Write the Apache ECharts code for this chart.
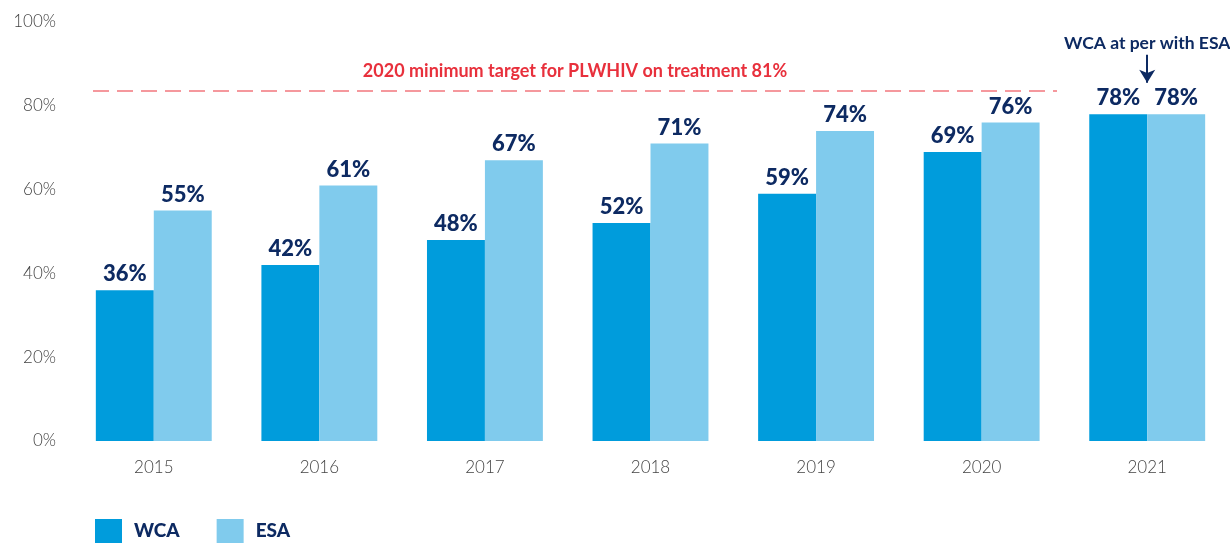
<!DOCTYPE html>
<html>
<head>
<meta charset="utf-8">
<script src="https://cdn.jsdelivr.net/npm/echarts@6/dist/echarts.min.js"></script>
<style>
  html, body { margin: 0; padding: 0; background: #fff; }
  #chart { width: 1230px; height: 543px; }
</style>
</head>
<body>
<div id="chart"></div>
<script>
var years = ['2015', '2016', '2017', '2018', '2019', '2020', '2021'];
var wca = [36, 42, 48, 52, 59, 69, 78];
var esa = [55, 61, 67, 71, 74, 76, 78];
var targetValue = 83.5;   // where the dashed line sits in the picture
var targetText = '2020 minimum target for PLWHIV on treatment 81%';
var noteText = 'WCA at per with ESA';

var navy = '#0d2a62';
var font = 'Lato, "Noto Sans", sans-serif';

var chart = echarts.init(document.getElementById('chart'));

var barLabel = {
  show: true,
  position: 'top',
  distance: 5,
  formatter: '{c}%',
  color: navy,
  fontFamily: font,
  fontWeight: 900,
  fontSize: 22
};

chart.setOption({
  animation: false,
  grid: { left: 71, right: 0, top: 22, bottom: 102 },
  legend: {
    data: ['WCA', 'ESA'],
    left: 95,
    bottom: 0,
    padding: 0,
    itemWidth: 27,
    itemHeight: 24,
    itemGap: 37,
    icon: 'rect',
    textStyle: { color: navy, fontFamily: font, fontWeight: 900, fontSize: 19, padding: [0, 0, 0, 7] }
  },
  xAxis: {
    type: 'category',
    data: years,
    axisLine: { show: false },
    axisTick: { show: false },
    axisLabel: { color: '#444', fontFamily: font, fontWeight: 300, fontSize: 17, margin: 18 }
  },
  yAxis: {
    type: 'value',
    min: 0,
    max: 100,
    interval: 20,
    splitLine: { show: false },
    axisLabel: { color: '#444', fontFamily: font, fontWeight: 300, fontSize: 17, margin: 15, formatter: '{value}%' }
  },
  series: [
    {
      name: 'WCA',
      type: 'bar',
      data: wca,
      barGap: 0,
      barCategoryGap: '30%',
      itemStyle: { color: '#009cdc' },
      label: barLabel
    },
    {
      name: 'ESA',
      type: 'bar',
      data: esa,
      itemStyle: { color: '#80cbed' },
      label: barLabel
    },
    {
      name: 'notes',
      type: 'line',
      data: [],
      silent: true,
      markLine: {
        silent: true,
        data: [
          [
            {
              x: 93, yAxis: targetValue, symbol: 'none',
              lineStyle: { color: '#f2777e', type: [16, 8], width: 1.5 },
              label: {
                show: true, position: 'middle', distance: 11, formatter: targetText,
                color: '#e8303c', fontFamily: font, fontWeight: 'bold', fontSize: 18
              }
            },
            { x: 1057, yAxis: targetValue, symbol: 'none' }
          ],
          [
            {
              coord: ['2021', 92.2], symbol: 'none',
              lineStyle: { color: navy, type: 'solid', width: 2 },
              label: { show: false }
            },
            { coord: ['2021', 85.5], symbol: 'arrow', symbolSize: [12, 13] }
          ]
        ]
      },
      markPoint: {
        silent: true,
        symbol: 'circle',
        symbolSize: 0,
        data: [
          {
            coord: ['2021', 95],
            label: {
              show: true, formatter: noteText, position: 'inside',
              color: navy, fontFamily: font, fontWeight: 'bold', fontSize: 17.5
            }
          }
        ]
      }
    }
  ]
});
</script>
</body>
</html>
